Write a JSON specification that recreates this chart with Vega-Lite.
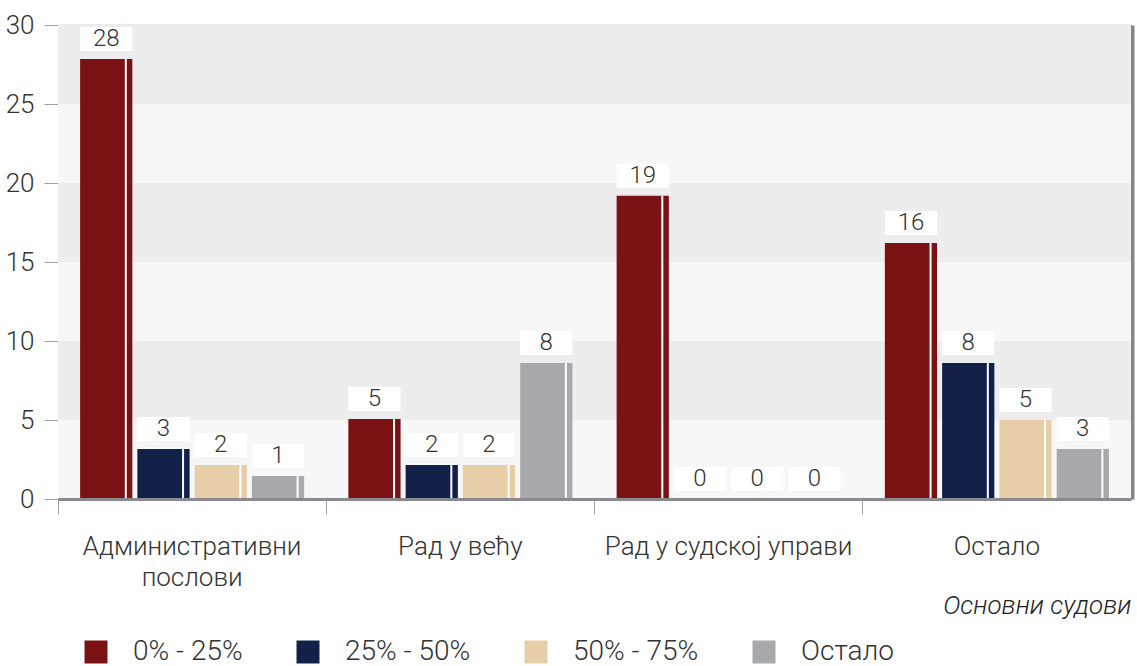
{
  "$schema": "https://vega.github.io/schema/vega-lite/v6.json",
  "width": 1073,
  "height": 474,
  "autosize": {"type": "none"},
  "padding": {"left": 58, "top": 25, "right": 6, "bottom": 167},
  "background": "white",
  "config": {
    "font": "Roboto",
    "view": {"stroke": "#a6a6a6", "strokeWidth": 1},
    "axis": {"labelFont": "Roboto", "labelFontWeight": 300, "labelColor": "#333333", "titleFont": "Roboto"},
    "legend": {"labelFont": "Roboto", "labelFontWeight": 300}
  },
  "datasets": {
    "bars": [
      {"cat": "Административни послови", "series": "0% - 25%", "value": 27.85, "label": 28},
      {"cat": "Административни послови", "series": "25% - 50%", "value": 3.16, "label": 3},
      {"cat": "Административни послови", "series": "50% - 75%", "value": 2.15, "label": 2},
      {"cat": "Административни послови", "series": "Остало", "value": 1.45, "label": 1},
      {"cat": "Рад у већу", "series": "0% - 25%", "value": 5.06, "label": 5},
      {"cat": "Рад у већу", "series": "25% - 50%", "value": 2.15, "label": 2},
      {"cat": "Рад у већу", "series": "50% - 75%", "value": 2.15, "label": 2},
      {"cat": "Рад у већу", "series": "Остало", "value": 8.6, "label": 8},
      {"cat": "Рад у судској управи", "series": "0% - 25%", "value": 19.2, "label": 19},
      {"cat": "Рад у судској управи", "series": "25% - 50%", "value": 0, "label": 0},
      {"cat": "Рад у судској управи", "series": "50% - 75%", "value": 0, "label": 0},
      {"cat": "Рад у судској управи", "series": "Остало", "value": 0, "label": 0},
      {"cat": "Остало", "series": "0% - 25%", "value": 16.2, "label": 16},
      {"cat": "Остало", "series": "25% - 50%", "value": 8.6, "label": 8},
      {"cat": "Остало", "series": "50% - 75%", "value": 5.0, "label": 5},
      {"cat": "Остало", "series": "Остало", "value": 3.16, "label": 3}
    ],
    "bands": [
      {"lo": 0, "hi": 5, "shade": "a"},
      {"lo": 5, "hi": 10, "shade": "b"},
      {"lo": 10, "hi": 15, "shade": "a"},
      {"lo": 15, "hi": 20, "shade": "b"},
      {"lo": 20, "hi": 25, "shade": "a"},
      {"lo": 25, "hi": 30, "shade": "b"}
    ]
  },
  "layer": [
    {
      "data": {"name": "bands"},
      "mark": {"type": "rect"},
      "encoding": {
        "y": {"field": "lo", "type": "quantitative", "scale": {"domain": [0, 30], "nice": false}, "axis": null},
        "y2": {"field": "hi"},
        "fill": {"field": "shade", "type": "nominal", "scale": {"domain": ["a", "b"], "range": ["#f7f7f7", "#ededed"]}, "legend": null}
      }
    },
    {
      "data": {"name": "bars"},
      "mark": {"type": "bar"},
      "encoding": {
        "x": {"field": "cat", "type": "nominal", "sort": null,
              "scale": {"paddingInner": 0, "paddingOuter": 0},
              "axis": {"title": "Основни судови", "titleFontStyle": "italic", "titleFontWeight": 300, "titleFontSize": 26, "titleColor": "#222222",
                       "titleX": 1073, "titleY": 106, "titleAlign": "right", "titleBaseline": "middle", "titleAnchor": "end",
                       "bandPosition": 0, "tickSize": 15, "tickColor": "#a0a0a0", "tickWidth": 1,
                       "domainColor": "#8a8a8e", "domainWidth": 3, "zindex": 1,
                       "labelAngle": 0, "labelFontSize": 26, "labelPadding": 19, "labelLineHeight": 31, "labelLimit": 0,
                       "labelExpr": "datum.label == 'Административни послови' ? ['Административни', 'послови'] : datum.label"}},
        "xOffset": {"field": "series", "type": "nominal", "sort": null, "scale": {"paddingInner": 0.088, "paddingOuter": 0.386}},
        "y": {"field": "value", "type": "quantitative", "scale": {"domain": [0, 30], "nice": false},
              "axis": {"orient": "left", "values": [0, 5, 10, 15, 20, 25, 30], "title": null, "labelFontSize": 26, "labelPadding": 10,
                       "tickSize": 14, "tickColor": "#a0a0a0", "domainColor": "#a0a0a0", "gridColor": "#a6a6a6", "gridWidth": 1.5, "grid": true}},
        "color": {"field": "series", "type": "nominal", "sort": null,
                  "scale": {"domain": ["0% - 25%", "25% - 50%", "50% - 75%", "Остало"], "range": ["#7a1214", "#121f47", "#e5cea8", "#a8a9ad"]},
                  "legend": {"orient": "none", "legendX": 24, "legendY": 613, "direction": "horizontal", "title": null,
                             "symbolType": "square", "symbolSize": 529, "symbolStrokeWidth": 0, "labelFontSize": 28, "labelColor": "#333333",
                             "labelOffset": 23, "columnPadding": 51}}
      }
    },
    {
      "data": {"name": "bars"},
      "mark": {"type": "rule", "color": "white", "strokeWidth": 2},
      "encoding": {
        "x": {"field": "cat", "type": "nominal", "sort": null, "bandPosition": 0.5},
        "xOffset": {"field": "series", "type": "nominal", "sort": null, "scale": {"paddingInner": 0, "paddingOuter": 0.342, "align": 1}},
        "y": {"field": "value", "type": "quantitative",
              "axis": {"orient": "right", "labels": false, "ticks": false, "grid": false, "title": null, "domain": true, "domainColor": "#85858a", "domainWidth": 4, "offset": 1}},
        "y2": {"datum": 0}
      }
    },
    {
      "data": {"name": "bars"},
      "layer": [
        {
          "mark": {"type": "bar", "color": "white", "yOffset": -32, "y2Offset": -8},
          "encoding": {
            "x": {"field": "cat", "type": "nominal", "sort": null},
            "xOffset": {"field": "series", "type": "nominal", "sort": null, "scale": {"paddingInner": 0.088, "paddingOuter": 0.386}},
            "y": {"field": "value", "type": "quantitative", "axis": null},
            "y2": {"field": "value"}
          }
        },
        {
          "mark": {"type": "text", "fontSize": 24, "fontWeight": 300, "color": "#333333", "baseline": "middle", "yOffset": -20},
          "encoding": {
            "x": {"field": "cat", "type": "nominal", "sort": null, "bandPosition": 0.5},
            "xOffset": {"field": "series", "type": "nominal", "sort": null},
            "y": {"field": "value", "type": "quantitative", "axis": null},
            "text": {"field": "label", "type": "quantitative"}
          }
        }
      ]
    }
  ],
  "resolve": {"axis": {"y": "independent"}, "scale": {"xOffset": "independent"}}
}
